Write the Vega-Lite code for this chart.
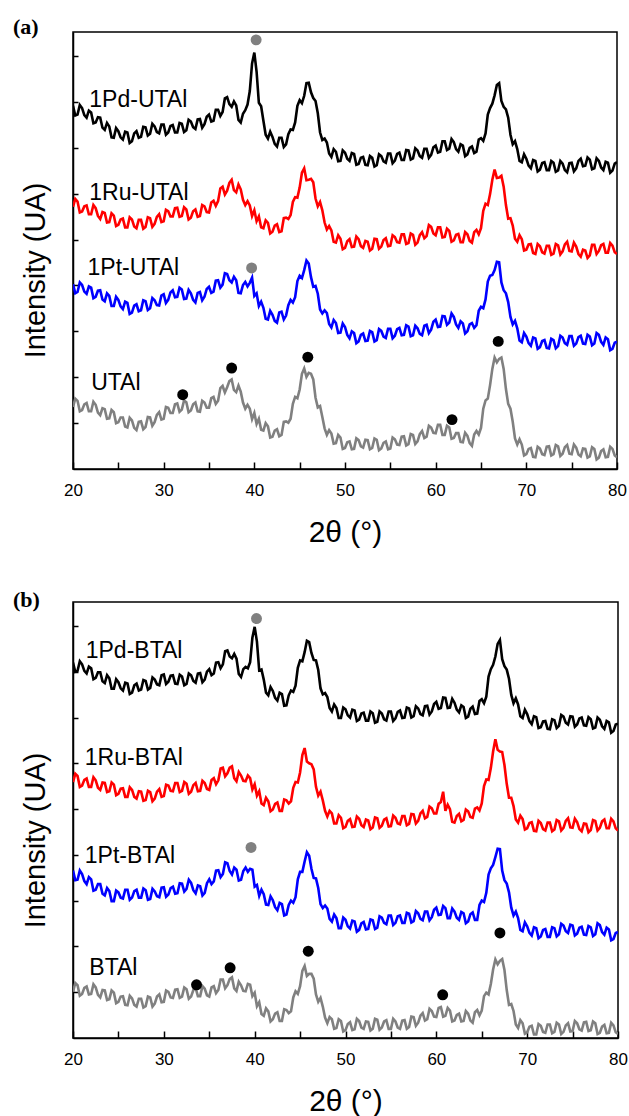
{
"$schema":"https://vega.github.io/schema/vega-lite/v6.json",
"padding":{"left":12,"top":15,"right":8,"bottom":4},
"spacing":40,
"config":{"font":"Liberation Sans","view":{"stroke":"black","strokeWidth":1.5},
"axis":{"domainColor":"black","domainWidth":1.5,"tickColor":"black","tickWidth":1.5,"labelColor":"black","titleColor":"black","labelFont":"Liberation Sans","titleFont":"Liberation Sans","labelFontSize":17,"grid":false,"titleFontWeight":"normal"},
"title":{"font":"Liberation Serif","fontSize":22,"fontWeight":"bold","color":"black","anchor":"start","frame":"group"}},
"datasets":{
"xrd":[
{"x":20,"a1":83.1,"a2":60.0,"a3":42.3,"a4":14.2,"b1":86.1,"b2":58.7,"b3":38.4,"b4":10.6},
{"x":20.5,"a1":81.1,"a2":61.2,"a3":40.5,"a4":15.6,"b1":84.2,"b2":60.1,"b3":36.3,"b4":12.1},
{"x":21,"a1":82.6,"a2":58.9,"a3":42.1,"a4":13.5,"b1":85.7,"b2":57.9,"b3":37.6,"b4":10.1},
{"x":21.5,"a1":80.4,"a2":60.3,"a3":40.1,"a4":15.1,"b1":83.6,"b2":59.5,"b3":35.3,"b4":11.8},
{"x":22,"a1":81.6,"a2":58.3,"a3":41.5,"a4":13.2,"b1":84.8,"b2":57.6,"b3":36.4,"b4":10.1},
{"x":22.5,"a1":79.3,"a2":59.7,"a3":39.4,"a4":14.7,"b1":82.6,"b2":59.1,"b3":34.0,"b4":11.6},
{"x":23,"a1":80.4,"a2":57.2,"a3":40.9,"a4":12.3,"b1":83.9,"b2":56.9,"b3":35.3,"b4":9.3},
{"x":23.5,"a1":77.6,"a2":58.6,"a3":38.4,"a4":13.7,"b1":81.4,"b2":58.5,"b3":32.7,"b4":10.9},
{"x":24,"a1":78.4,"a2":56.5,"a3":39.6,"a4":11.6,"b1":82.5,"b2":56.6,"b3":33.7,"b4":8.9},
{"x":24.5,"a1":75.8,"a2":58.0,"a3":37.3,"a4":13.0,"b1":80.1,"b2":58.1,"b3":31.4,"b4":10.4},
{"x":25,"a1":77.3,"a2":55.9,"a3":38.7,"a4":10.7,"b1":81.6,"b2":56.0,"b3":33.4,"b4":8.3},
{"x":25.5,"a1":75.4,"a2":57.3,"a3":36.6,"a4":11.8,"b1":79.7,"b2":57.3,"b3":32.0,"b4":9.6},
{"x":26,"a1":77.0,"a2":55.3,"a3":38.0,"a4":9.5,"b1":81.3,"b2":55.3,"b3":34.0,"b4":7.5},
{"x":26.5,"a1":75.0,"a2":57.1,"a3":35.8,"a4":11.1,"b1":79.2,"b2":56.9,"b3":32.2,"b4":9.1},
{"x":27,"a1":77.3,"a2":55.1,"a3":37.7,"a4":8.9,"b1":81.3,"b2":54.9,"b3":34.0,"b4":7.2},
{"x":27.5,"a1":76.0,"a2":57.0,"a3":36.3,"a4":10.9,"b1":79.9,"b2":56.5,"b3":32.2,"b4":9.0},
{"x":28,"a1":78.2,"a2":55.4,"a3":38.4,"a4":9.6,"b1":81.9,"b2":54.6,"b3":33.9,"b4":7.3},
{"x":28.5,"a1":76.7,"a2":57.4,"a3":36.8,"a4":11.8,"b1":80.3,"b2":56.4,"b3":31.9,"b4":9.3},
{"x":29,"a1":78.4,"a2":56.1,"a3":38.6,"a4":10.7,"b1":82.2,"b2":54.9,"b3":33.6,"b4":7.9},
{"x":29.5,"a1":76.8,"a2":58.3,"a3":37.4,"a4":13.0,"b1":80.9,"b2":57.1,"b3":32.3,"b4":10.0},
{"x":30,"a1":78.8,"a2":56.7,"a3":40.0,"a4":11.5,"b1":83.4,"b2":55.5,"b3":34.6,"b4":8.3},
{"x":30.5,"a1":77.0,"a2":59.0,"a3":38.7,"a4":14.0,"b1":81.7,"b2":57.9,"b3":32.9,"b4":10.6},
{"x":31,"a1":78.7,"a2":57.8,"a3":40.9,"a4":12.8,"b1":83.2,"b2":56.6,"b3":34.7,"b4":9.2},
{"x":31.5,"a1":77.0,"a2":59.8,"a3":39.4,"a4":15.0,"b1":81.2,"b2":58.5,"b3":33.2,"b4":11.2},
{"x":32,"a1":79.0,"a2":57.9,"a3":41.1,"a4":13.6,"b1":82.9,"b2":56.7,"b3":35.4,"b4":9.5},
{"x":32.5,"a1":77.5,"a2":59.4,"a3":39.0,"a4":15.3,"b1":81.2,"b2":58.3,"b3":34.2,"b4":11.2},
{"x":33,"a1":79.5,"a2":57.5,"a3":40.2,"a4":13.4,"b1":83.2,"b2":56.5,"b3":35.6,"b4":9.5},
{"x":33.5,"a1":77.8,"a2":59.4,"a3":38.1,"a4":15.2,"b1":81.5,"b2":58.5,"b3":33.2,"b4":11.5},
{"x":34,"a1":80.1,"a2":57.9,"a3":40.5,"a4":13.1,"b1":83.7,"b2":56.7,"b3":34.8,"b4":9.6},
{"x":34.5,"a1":78.9,"a2":60.1,"a3":39.4,"a4":15.2,"b1":82.2,"b2":58.5,"b3":33.3,"b4":11.3},
{"x":35,"a1":81.1,"a2":58.7,"a3":41.7,"a4":14.0,"b1":84.6,"b2":56.9,"b3":36.4,"b4":9.5},
{"x":35.5,"a1":79.7,"a2":61.4,"a3":40.6,"a4":16.5,"b1":83.6,"b2":59.6,"b3":35.9,"b4":11.9},
{"x":36,"a1":82.2,"a2":61.3,"a3":43.2,"a4":15.6,"b1":86.2,"b2":59.1,"b3":38.5,"b4":11.0},
{"x":36.5,"a1":81.7,"a2":64.6,"a3":42.2,"a4":19.0,"b1":85.7,"b2":62.0,"b3":37.6,"b4":13.4},
{"x":37,"a1":85.1,"a2":63.7,"a3":44.6,"a4":18.7,"b1":88.9,"b2":60.7,"b3":40.1,"b4":12.1},
{"x":37.5,"a1":82.9,"a2":66.2,"a3":42.7,"a4":20.5,"b1":87.1,"b2":62.3,"b3":37.5,"b4":13.9},
{"x":38,"a1":83.2,"a2":63.3,"a3":43.2,"a4":17.6,"b1":87.0,"b2":58.9,"b3":38.6,"b4":10.8},
{"x":38.5,"a1":79.3,"a2":64.0,"a3":40.2,"a4":17.7,"b1":82.8,"b2":60.2,"b3":36.3,"b4":12.1},
{"x":39,"a1":82.1,"a2":60.4,"a3":42.8,"a4":13.8,"b1":85.1,"b2":58.9,"b3":39.1,"b4":10.7},
{"x":39.5,"a1":86.5,"a2":60.3,"a3":42.6,"a4":13.8,"b1":86.2,"b2":59.6,"b3":38.8,"b4":12.2},
{"x":39.75,"a1":92.8,"a2":57.9,"a3":43.8,"a4":11.4,"b1":91.8,"b2":57.0,"b3":38.6,"b4":9.6},
{"x":40,"a1":95.3,"a2":59.2,"a3":39.6,"a4":12.8,"b1":94.3,"b2":58.2,"b3":34.7,"b4":10.4},
{"x":40.25,"a1":90.9,"a2":56.7,"a3":40.2,"a4":10.3,"b1":90.9,"b2":55.6,"b3":35.1,"b4":7.3},
{"x":40.5,"a1":83.8,"a2":57.8,"a3":37.3,"a4":11.5,"b1":84.3,"b2":56.6,"b3":32.6,"b4":8.2},
{"x":41,"a1":79.7,"a2":55.1,"a3":36.9,"a4":8.8,"b1":82.2,"b2":53.4,"b3":33.0,"b4":5.1},
{"x":41.5,"a1":75.6,"a2":56.3,"a3":34.2,"a4":9.8,"b1":78.6,"b2":54.3,"b3":30.5,"b4":6.1},
{"x":42,"a1":76.0,"a2":54.3,"a3":35.3,"a4":7.4,"b1":79.6,"b2":52.4,"b3":31.6,"b4":4.3},
{"x":42.5,"a1":73.8,"a2":56.0,"a3":33.5,"a4":9.1,"b1":77.4,"b2":54.0,"b3":29.3,"b4":5.9},
{"x":43,"a1":75.8,"a2":54.4,"a3":36.0,"a4":7.8,"b1":78.9,"b2":52.1,"b3":30.7,"b4":3.9},
{"x":43.5,"a1":74.3,"a2":57.5,"a3":35.1,"a4":10.9,"b1":76.3,"b2":54.5,"b3":28.3,"b4":6.4},
{"x":44,"a1":77.7,"a2":58.1,"a3":38.7,"a4":11.5,"b1":79.7,"b2":54.3,"b3":31.5,"b4":6.1},
{"x":44.5,"a1":79.3,"a2":62.2,"a3":39.3,"a4":16.5,"b1":80.8,"b2":58.7,"b3":32.3,"b4":10.7},
{"x":45,"a1":84.4,"a2":64.4,"a3":44.2,"a4":18.2,"b1":86.6,"b2":60.9,"b3":38.1,"b4":11.9},
{"x":45.5,"a1":85.4,"a2":68.8,"a3":45.5,"a4":23.0,"b1":88.5,"b2":66.5,"b3":40.5,"b4":16.5},
{"x":46,"a1":88.4,"a2":66.2,"a3":47.0,"a4":22.0,"b1":90.8,"b2":63.0,"b3":41.8,"b4":14.7},
{"x":46.5,"a1":84.9,"a2":65.6,"a3":41.7,"a4":20.5,"b1":86.7,"b2":61.6,"b3":36.7,"b4":13.6},
{"x":47,"a1":81.4,"a2":60.1,"a3":40.1,"a4":14.1,"b1":84.4,"b2":55.6,"b3":34.4,"b4":8.3},
{"x":47.5,"a1":75.3,"a2":59.2,"a3":35.6,"a4":11.9,"b1":78.8,"b2":54.5,"b3":29.8,"b4":7.2},
{"x":48,"a1":74.7,"a2":54.8,"a3":35.7,"a4":7.8,"b1":78.2,"b2":50.8,"b3":29.7,"b4":3.4},
{"x":48.5,"a1":71.4,"a2":54.6,"a3":32.4,"a4":8.1,"b1":74.9,"b2":51.5,"b3":26.7,"b4":4.3},
{"x":49,"a1":72.6,"a2":51.8,"a3":33.4,"a4":5.9,"b1":75.7,"b2":49.2,"b3":27.5,"b4":2.3},
{"x":49.5,"a1":70.5,"a2":52.7,"a3":31.2,"a4":7.2,"b1":73.4,"b2":50.5,"b3":25.2,"b4":3.9},
{"x":50,"a1":72.4,"a2":50.6,"a3":32.5,"a4":4.8,"b1":75.4,"b2":48.4,"b3":27.1,"b4":1.8},
{"x":50.5,"a1":70.5,"a2":52.6,"a3":29.9,"a4":6.3,"b1":73.5,"b2":50.2,"b3":25.1,"b4":3.6},
{"x":51,"a1":72.1,"a2":50.9,"a3":31.1,"a4":4.6,"b1":75.1,"b2":48.5,"b3":26.7,"b4":2.0},
{"x":51.5,"a1":69.8,"a2":52.6,"a3":29.2,"a4":6.6,"b1":73.0,"b2":50.3,"b3":24.8,"b4":3.9},
{"x":52,"a1":71.4,"a2":50.6,"a3":31.0,"a4":4.9,"b1":74.6,"b2":48.4,"b3":26.6,"b4":2.1},
{"x":52.5,"a1":69.5,"a2":52.0,"a3":29.4,"a4":6.6,"b1":72.8,"b2":49.9,"b3":25.0,"b4":3.7},
{"x":53,"a1":71.2,"a2":50.4,"a3":31.3,"a4":4.8,"b1":74.5,"b2":48.3,"b3":27.0,"b4":2.1},
{"x":53.5,"a1":69.5,"a2":52.6,"a3":29.5,"a4":6.7,"b1":72.5,"b2":50.4,"b3":25.3,"b4":4.2},
{"x":54,"a1":71.6,"a2":50.9,"a3":31.6,"a4":4.7,"b1":74.4,"b2":48.7,"b3":27.6,"b4":2.4},
{"x":54.5,"a1":70.1,"a2":52.8,"a3":30.0,"a4":6.3,"b1":72.8,"b2":50.4,"b3":26.1,"b4":4.1},
{"x":55,"a1":72.2,"a2":51.1,"a3":32.1,"a4":4.7,"b1":74.9,"b2":48.6,"b3":28.1,"b4":2.1},
{"x":55.5,"a1":70.6,"a2":53.1,"a3":30.5,"a4":6.8,"b1":73.3,"b2":50.5,"b3":26.4,"b4":3.8},
{"x":56,"a1":72.4,"a2":51.8,"a3":32.3,"a4":5.5,"b1":75.1,"b2":49.0,"b3":28.1,"b4":2.1},
{"x":56.5,"a1":70.7,"a2":53.7,"a3":30.7,"a4":7.5,"b1":73.5,"b2":50.9,"b3":26.4,"b4":4.1},
{"x":57,"a1":72.9,"a2":51.7,"a3":32.6,"a4":5.7,"b1":75.6,"b2":49.1,"b3":28.5,"b4":2.5},
{"x":57.5,"a1":71.1,"a2":53.6,"a3":30.6,"a4":7.8,"b1":73.8,"b2":51.3,"b3":26.8,"b4":4.8},
{"x":58,"a1":72.9,"a2":51.8,"a3":32.2,"a4":6.3,"b1":75.6,"b2":49.8,"b3":28.6,"b4":3.5},
{"x":58.5,"a1":71.2,"a2":54.2,"a3":30.6,"a4":8.7,"b1":74.0,"b2":52.1,"b3":27.0,"b4":5.7},
{"x":59,"a1":73.3,"a2":53.3,"a3":33.0,"a4":7.4,"b1":76.2,"b2":50.7,"b3":29.0,"b4":4.3},
{"x":59.5,"a1":71.9,"a2":55.4,"a3":31.9,"a4":9.5,"b1":74.9,"b2":52.7,"b3":27.7,"b4":6.2},
{"x":60,"a1":74.0,"a2":53.5,"a3":34.2,"a4":8.2,"b1":77.1,"b2":51.5,"b3":29.9,"b4":4.8},
{"x":60.5,"a1":72.6,"a2":55.3,"a3":32.6,"a4":10.1,"b1":75.7,"b2":54.1,"b3":28.3,"b4":7.1},
{"x":61,"a1":75.0,"a2":53.1,"a3":34.9,"a4":7.8,"b1":78.0,"b2":52.1,"b3":29.8,"b4":5.1},
{"x":61.5,"a1":73.3,"a2":54.5,"a3":33.5,"a4":9.5,"b1":75.8,"b2":52.5,"b3":27.5,"b4":6.3},
{"x":62,"a1":74.8,"a2":52.3,"a3":34.8,"a4":7.1,"b1":76.9,"b2":49.4,"b3":29.0,"b4":4.0},
{"x":62.5,"a1":72.6,"a2":53.8,"a3":32.3,"a4":8.2,"b1":74.7,"b2":51.4,"b3":27.1,"b4":5.6},
{"x":63,"a1":74.0,"a2":51.9,"a3":33.3,"a4":6.1,"b1":75.9,"b2":50.0,"b3":28.6,"b4":3.9},
{"x":63.5,"a1":72.0,"a2":53.7,"a3":31.5,"a4":7.6,"b1":73.7,"b2":52.0,"b3":26.7,"b4":5.6},
{"x":64,"a1":73.8,"a2":51.8,"a3":33.4,"a4":5.3,"b1":76.0,"b2":50.5,"b3":28.8,"b4":3.5},
{"x":64.5,"a1":72.6,"a2":54.7,"a3":32.9,"a4":8.7,"b1":74.4,"b2":52.9,"b3":27.1,"b4":6.4},
{"x":65,"a1":75.7,"a2":55.1,"a3":37.1,"a4":9.4,"b1":77.7,"b2":53.8,"b3":31.5,"b4":6.3},
{"x":65.5,"a1":76.8,"a2":60.7,"a3":38.8,"a4":15.7,"b1":78.3,"b2":59.3,"b3":33.3,"b4":10.4},
{"x":66,"a1":82.6,"a2":62.9,"a3":44.2,"a4":19.2,"b1":84.6,"b2":61.9,"b3":38.9,"b4":12.4},
{"x":66.5,"a1":85.5,"a2":68.5,"a3":45.5,"a4":25.5,"b1":87.5,"b2":68.5,"b3":41.5,"b4":18.0},
{"x":67,"a1":88.3,"a2":66.7,"a3":47.3,"a4":25.2,"b1":91.3,"b2":65.7,"b3":43.3,"b4":17.7},
{"x":67.5,"a1":82.9,"a2":64.6,"a3":40.9,"a4":22.9,"b1":85.3,"b2":62.6,"b3":36.2,"b4":15.6},
{"x":68,"a1":80.4,"a2":57.3,"a3":38.2,"a4":14.9,"b1":82.4,"b2":55.1,"b3":33.4,"b4":7.6},
{"x":68.5,"a1":74.3,"a2":55.7,"a3":33.1,"a4":10.8,"b1":76.8,"b2":53.2,"b3":28.1,"b4":6.2},
{"x":69,"a1":73.2,"a2":52.0,"a3":32.2,"a4":5.6,"b1":76.5,"b2":49.4,"b3":27.5,"b4":2.3},
{"x":69.5,"a1":70.2,"a2":52.6,"a3":29.0,"a4":5.6,"b1":73.4,"b2":50.2,"b3":24.5,"b4":3.4},
{"x":70,"a1":71.0,"a2":50.2,"a3":30.3,"a4":3.4,"b1":74.3,"b2":48.1,"b3":25.6,"b4":1.3},
{"x":70.5,"a1":68.8,"a2":51.5,"a3":28.2,"a4":4.8,"b1":72.0,"b2":49.5,"b3":23.5,"b4":2.8},
{"x":71,"a1":70.5,"a2":49.2,"a3":29.9,"a4":2.7,"b1":73.6,"b2":47.4,"b3":25.2,"b4":0.8},
{"x":71.5,"a1":68.5,"a2":51.0,"a3":27.9,"a4":4.7,"b1":71.3,"b2":49.3,"b3":23.3,"b4":2.8},
{"x":72,"a1":70.2,"a2":49.3,"a3":29.5,"a4":3.2,"b1":72.7,"b2":47.6,"b3":25.0,"b4":1.2},
{"x":72.5,"a1":68.4,"a2":51.1,"a3":27.6,"a4":5.2,"b1":70.8,"b2":49.4,"b3":23.2,"b4":3.1},
{"x":73,"a1":70.1,"a2":49.3,"a3":29.5,"a4":3.4,"b1":72.9,"b2":47.8,"b3":25.2,"b4":1.4},
{"x":73.5,"a1":68.3,"a2":51.2,"a3":28.1,"a4":5.2,"b1":71.6,"b2":49.7,"b3":23.8,"b4":3.1},
{"x":74,"a1":69.9,"a2":49.8,"a3":30.1,"a4":3.5,"b1":73.7,"b2":48.2,"b3":25.8,"b4":1.4},
{"x":74.5,"a1":67.9,"a2":52.0,"a3":28.4,"a4":5.5,"b1":71.9,"b2":50.4,"b3":24.1,"b4":3.4},
{"x":75,"a1":70.1,"a2":49.8,"a3":30.4,"a4":3.4,"b1":73.7,"b2":48.2,"b3":25.8,"b4":1.6},
{"x":75.5,"a1":68.8,"a2":50.9,"a3":28.7,"a4":4.9,"b1":71.9,"b2":49.5,"b3":23.9,"b4":3.4},
{"x":76,"a1":71.0,"a2":48.6,"a3":30.5,"a4":2.9,"b1":73.5,"b2":47.4,"b3":25.5,"b4":1.7},
{"x":76.5,"a1":69.4,"a2":50.0,"a3":28.6,"a4":4.6,"b1":71.6,"b2":49.1,"b3":23.6,"b4":3.7},
{"x":77,"a1":70.8,"a2":48.9,"a3":30.3,"a4":2.9,"b1":73.1,"b2":47.7,"b3":25.4,"b4":1.8},
{"x":77.5,"a1":68.8,"a2":51.3,"a3":28.7,"a4":4.6,"b1":71.2,"b2":49.8,"b3":23.8,"b4":3.4},
{"x":78,"a1":70.5,"a2":49.9,"a3":30.7,"a4":2.6,"b1":73.0,"b2":48.2,"b3":25.9,"b4":1.2},
{"x":78.5,"a1":68.4,"a2":51.5,"a3":28.4,"a4":4.5,"b1":70.9,"b2":50.1,"b3":23.7,"b4":3.0},
{"x":79,"a1":70.1,"a2":49.5,"a3":29.7,"a4":2.8,"b1":72.4,"b2":48.1,"b3":24.9,"b4":1.2},
{"x":79.5,"a1":68.3,"a2":51.1,"a3":27.5,"a4":4.6,"b1":70.4,"b2":49.7,"b3":22.7,"b4":2.9},
{"x":80,"a1":70.2,"a2":49.2,"a3":29.1,"a4":2.7,"b1":72.1,"b2":47.6,"b3":24.3,"b4":0.9},
{"x":20.25,"a1":80.9,"a2":61.8,"a3":40.2,"a4":16.1,"b1":84.0,"b2":60.6,"b3":36.2,"b4":12.6},
{"x":20.75,"a1":83.3,"a2":58.7,"a3":42.7,"a4":13.2,"b1":86.4,"b2":57.6,"b3":38.4,"b4":9.7},
{"x":21.25,"a1":81.0,"a2":60.1,"a3":40.6,"a4":14.8,"b1":84.2,"b2":59.2,"b3":36.0,"b4":11.5},
{"x":21.75,"a1":82.0,"a2":58.3,"a3":41.8,"a4":13.2,"b1":85.2,"b2":57.6,"b3":36.9,"b4":10.0},
{"x":22.25,"a1":79.1,"a2":60.4,"a3":39.1,"a4":15.4,"b1":82.3,"b2":59.8,"b3":33.8,"b4":12.3},
{"x":22.75,"a1":80.5,"a2":57.9,"a3":40.8,"a4":12.9,"b1":83.9,"b2":57.4,"b3":35.3,"b4":9.9},
{"x":23.25,"a1":78.1,"a2":58.8,"a3":38.8,"a4":13.9,"b1":81.8,"b2":58.6,"b3":33.1,"b4":11.0},
{"x":23.75,"a1":79.2,"a2":56.4,"a3":40.2,"a4":11.5,"b1":83.2,"b2":56.4,"b3":34.4,"b4":8.7},
{"x":24.25,"a1":75.9,"a2":58.5,"a3":37.3,"a4":13.5,"b1":80.1,"b2":58.6,"b3":31.4,"b4":10.9},
{"x":24.75,"a1":78.0,"a2":55.6,"a3":39.4,"a4":10.5,"b1":82.3,"b2":55.7,"b3":33.8,"b4":8.0},
{"x":25.25,"a1":75.9,"a2":57.1,"a3":37.2,"a4":11.8,"b1":80.2,"b2":57.2,"b3":32.2,"b4":9.5},
{"x":25.75,"a1":77.2,"a2":55.3,"a3":38.3,"a4":9.7,"b1":81.5,"b2":55.3,"b3":34.0,"b4":7.6},
{"x":26.25,"a1":74.6,"a2":57.6,"a3":35.5,"a4":11.7,"b1":78.9,"b2":57.5,"b3":31.7,"b4":9.7},
{"x":26.75,"a1":76.8,"a2":55.5,"a3":37.4,"a4":9.4,"b1":80.9,"b2":55.3,"b3":33.7,"b4":7.6},
{"x":27.25,"a1":75.8,"a2":57.0,"a3":36.1,"a4":10.8,"b1":79.7,"b2":56.6,"b3":32.2,"b4":9.0},
{"x":27.75,"a1":78.3,"a2":55.0,"a3":38.6,"a4":9.1,"b1":82.1,"b2":54.4,"b3":34.3,"b4":7.0},
{"x":28.25,"a1":76.3,"a2":57.6,"a3":36.4,"a4":11.9,"b1":79.9,"b2":56.7,"b3":31.7,"b4":9.5},
{"x":28.75,"a1":79.0,"a2":55.4,"a3":39.1,"a4":9.9,"b1":82.7,"b2":54.3,"b3":34.2,"b4":7.2},
{"x":29.25,"a1":77.1,"a2":57.7,"a3":37.5,"a4":12.4,"b1":81.1,"b2":56.5,"b3":32.5,"b4":9.5},
{"x":29.75,"a1":78.8,"a2":56.5,"a3":39.7,"a4":11.3,"b1":83.2,"b2":55.3,"b3":34.5,"b4":8.2},
{"x":30.25,"a1":76.5,"a2":59.3,"a3":38.0,"a4":14.2,"b1":81.2,"b2":58.1,"b3":32.4,"b4":10.9},
{"x":30.75,"a1":78.5,"a2":57.8,"a3":40.4,"a4":12.8,"b1":83.1,"b2":56.7,"b3":34.4,"b4":9.3},
{"x":31.25,"a1":77.0,"a2":59.7,"a3":39.3,"a4":14.8,"b1":81.3,"b2":58.5,"b3":33.1,"b4":11.1},
{"x":31.75,"a1":79.2,"a2":57.7,"a3":41.5,"a4":13.1,"b1":83.3,"b2":56.4,"b3":35.5,"b4":9.2},
{"x":32.25,"a1":77.1,"a2":59.9,"a3":38.9,"a4":15.7,"b1":80.9,"b2":58.7,"b3":33.6,"b4":11.6},
{"x":32.75,"a1":79.9,"a2":57.1,"a3":41.0,"a4":13.0,"b1":83.6,"b2":56.0,"b3":36.3,"b4":9.0},
{"x":33.25,"a1":78.2,"a2":59.0,"a3":38.7,"a4":14.8,"b1":81.9,"b2":58.0,"b3":33.9,"b4":11.0},
{"x":33.75,"a1":80.0,"a2":57.7,"a3":40.3,"a4":13.2,"b1":83.6,"b2":56.6,"b3":35.0,"b4":9.6},
{"x":34.25,"a1":78.1,"a2":60.4,"a3":38.6,"a4":15.6,"b1":81.6,"b2":59.0,"b3":32.7,"b4":11.9},
{"x":34.75,"a1":80.6,"a2":58.8,"a3":41.2,"a4":14.0,"b1":84.0,"b2":57.1,"b3":35.5,"b4":9.8},
{"x":35.25,"a1":79.5,"a2":61.0,"a3":40.3,"a4":16.2,"b1":83.2,"b2":59.2,"b3":35.3,"b4":11.6},
{"x":35.75,"a1":82.2,"a2":60.2,"a3":43.1,"a4":14.9,"b1":86.1,"b2":58.2,"b3":38.4,"b4":10.3},
{"x":36.25,"a1":80.8,"a2":64.2,"a3":41.5,"a4":18.5,"b1":84.8,"b2":61.8,"b3":36.9,"b4":13.4},
{"x":36.75,"a1":84.8,"a2":62.8,"a3":44.8,"a4":17.5,"b1":88.7,"b2":60.0,"b3":40.3,"b4":11.4},
{"x":37.25,"a1":83.5,"a2":65.5,"a3":43.2,"a4":20.1,"b1":87.5,"b2":62.0,"b3":38.3,"b4":13.5},
{"x":37.75,"a1":84.1,"a2":63.8,"a3":44.0,"a4":18.1,"b1":88.1,"b2":59.6,"b3":39.1,"b4":11.4},
{"x":38.25,"a1":79.9,"a2":65.1,"a3":40.3,"a4":19.1,"b1":83.5,"b2":61.0,"b3":36.1,"b4":12.9},
{"x":38.75,"a1":81.3,"a2":61.6,"a3":42.1,"a4":15.2,"b1":84.6,"b2":59.0,"b3":38.3,"b4":10.8},
{"x":39.25,"a1":83.4,"a2":61.3,"a3":41.8,"a4":14.7,"b1":84.8,"b2":60.2,"b3":38.1,"b4":12.4},
{"x":40.75,"a1":83.0,"a2":55.3,"a3":38.3,"a4":9.0,"b1":84.5,"b2":53.8,"b3":34.0,"b4":5.5},
{"x":41.25,"a1":76.5,"a2":56.9,"a3":34.4,"a4":10.5,"b1":79.2,"b2":55.1,"b3":30.6,"b4":6.8},
{"x":41.75,"a1":77.2,"a2":53.9,"a3":36.2,"a4":7.2,"b1":80.5,"b2":52.0,"b3":32.5,"b4":3.8},
{"x":42.25,"a1":74.4,"a2":55.7,"a3":33.9,"a4":8.8,"b1":78.0,"b2":53.7,"b3":30.0,"b4":5.6},
{"x":42.75,"a1":75.8,"a2":54.2,"a3":35.8,"a4":7.5,"b1":79.2,"b2":52.1,"b3":31.0,"b4":3.9},
{"x":43.25,"a1":73.7,"a2":57.4,"a3":34.2,"a4":10.8,"b1":76.2,"b2":54.7,"b3":28.1,"b4":6.6},
{"x":43.75,"a1":76.6,"a2":57.2,"a3":37.5,"a4":10.6,"b1":78.6,"b2":53.8,"b3":30.5,"b4":5.7},
{"x":44.25,"a1":77.6,"a2":61.1,"a3":38.1,"a4":14.9,"b1":79.4,"b2":57.4,"b3":31.0,"b4":9.3},
{"x":44.75,"a1":83.1,"a2":62.1,"a3":43.0,"a4":16.2,"b1":84.9,"b2":58.6,"b3":36.4,"b4":10.1},
{"x":45.25,"a1":83.7,"a2":67.8,"a3":43.7,"a4":21.8,"b1":86.4,"b2":64.9,"b3":38.1,"b4":15.4},
{"x":45.75,"a1":88.3,"a2":66.1,"a3":47.7,"a4":21.1,"b1":91.1,"b2":63.4,"b3":42.6,"b4":14.2},
{"x":46.25,"a1":86.2,"a2":66.4,"a3":43.9,"a4":21.8,"b1":88.3,"b2":62.8,"b3":38.8,"b4":14.7},
{"x":46.75,"a1":84.2,"a2":61.9,"a3":41.9,"a4":16.3,"b1":86.6,"b2":57.6,"b3":36.6,"b4":10.0},
{"x":47.25,"a1":77.0,"a2":61.1,"a3":36.5,"a4":14.4,"b1":80.2,"b2":56.5,"b3":30.7,"b4":9.2},
{"x":47.75,"a1":75.6,"a2":56.4,"a3":36.3,"a4":9.3,"b1":79.1,"b2":52.1,"b3":30.4,"b4":4.7},
{"x":48.25,"a1":72.2,"a2":55.6,"a3":33.2,"a4":8.9,"b1":75.7,"b2":52.1,"b3":27.3,"b4":4.8},
{"x":48.75,"a1":73.2,"a2":52.0,"a3":34.1,"a4":5.8,"b1":76.5,"b2":49.2,"b3":28.3,"b4":2.1},
{"x":49.25,"a1":70.4,"a2":53.5,"a3":31.1,"a4":7.8,"b1":73.4,"b2":51.1,"b3":25.2,"b4":4.3},
{"x":49.75,"a1":72.9,"a2":50.3,"a3":33.3,"a4":4.6,"b1":75.8,"b2":48.1,"b3":27.6,"b4":1.5},
{"x":50.25,"a1":71.0,"a2":52.1,"a3":30.7,"a4":6.1,"b1":74.0,"b2":49.8,"b3":25.6,"b4":3.2},
{"x":50.75,"a1":72.3,"a2":50.8,"a3":31.5,"a4":4.5,"b1":75.3,"b2":48.4,"b3":26.9,"b4":1.8},
{"x":51.25,"a1":69.6,"a2":53.2,"a3":28.8,"a4":7.0,"b1":72.7,"b2":50.8,"b3":24.4,"b4":4.4},
{"x":51.75,"a1":71.2,"a2":51.0,"a3":30.7,"a4":5.2,"b1":74.4,"b2":48.8,"b3":26.3,"b4":2.4},
{"x":52.25,"a1":69.6,"a2":52.2,"a3":29.3,"a4":6.7,"b1":72.8,"b2":50.1,"b3":24.9,"b4":3.8},
{"x":52.75,"a1":71.6,"a2":50.0,"a3":31.6,"a4":4.5,"b1":74.9,"b2":47.9,"b3":27.2,"b4":1.7},
{"x":53.25,"a1":69.2,"a2":52.7,"a3":29.2,"a4":7.0,"b1":72.3,"b2":50.6,"b3":25.0,"b4":4.4},
{"x":53.75,"a1":72.0,"a2":50.4,"a3":32.0,"a4":4.3,"b1":74.9,"b2":48.2,"b3":27.9,"b4":1.9},
{"x":54.25,"a1":70.4,"a2":52.4,"a3":30.3,"a4":6.0,"b1":73.1,"b2":50.1,"b3":26.4,"b4":3.8},
{"x":54.75,"a1":72.2,"a2":51.0,"a3":32.1,"a4":4.5,"b1":74.9,"b2":48.5,"b3":28.1,"b4":2.1},
{"x":55.25,"a1":70.0,"a2":53.5,"a3":29.9,"a4":7.2,"b1":72.7,"b2":51.0,"b3":25.9,"b4":4.4},
{"x":55.75,"a1":72.1,"a2":51.9,"a3":32.0,"a4":5.6,"b1":74.8,"b2":49.2,"b3":27.9,"b4":2.4},
{"x":56.25,"a1":70.7,"a2":53.7,"a3":30.6,"a4":7.4,"b1":73.4,"b2":50.9,"b3":26.4,"b4":4.0},
{"x":56.75,"a1":73.0,"a2":51.5,"a3":32.9,"a4":5.4,"b1":75.8,"b2":48.8,"b3":28.7,"b4":2.1},
{"x":57.25,"a1":70.8,"a2":53.9,"a3":30.4,"a4":8.0,"b1":73.5,"b2":51.4,"b3":26.5,"b4":4.9},
{"x":57.75,"a1":73.4,"a2":51.3,"a3":32.8,"a4":5.7,"b1":76.1,"b2":49.2,"b3":29.1,"b4":2.8},
{"x":58.25,"a1":71.6,"a2":53.5,"a3":30.9,"a4":8.0,"b1":74.3,"b2":51.5,"b3":27.3,"b4":5.1},
{"x":58.75,"a1":73.3,"a2":52.8,"a3":32.8,"a4":7.1,"b1":76.1,"b2":50.4,"b3":29.0,"b4":4.0},
{"x":59.25,"a1":71.2,"a2":55.8,"a3":31.1,"a4":9.9,"b1":74.2,"b2":53.1,"b3":27.0,"b4":6.7},
{"x":59.75,"a1":73.6,"a2":53.9,"a3":33.7,"a4":8.3,"b1":76.6,"b2":51.5,"b3":29.4,"b4":4.9},
{"x":60.25,"a1":72.4,"a2":55.3,"a3":32.5,"a4":10.1,"b1":75.5,"b2":53.7,"b3":28.2,"b4":6.9},
{"x":60.75,"a1":75.0,"a2":53.0,"a3":35.0,"a4":7.8,"b1":78.1,"b2":56.5,"b3":30.3,"b4":4.9},
{"x":61.25,"a1":73.0,"a2":55.0,"a3":33.0,"a4":9.9,"b1":75.7,"b2":53.5,"b3":27.5,"b4":6.9},
{"x":61.75,"a1":75.5,"a2":52.0,"a3":35.6,"a4":6.9,"b1":77.8,"b2":49.6,"b3":29.7,"b4":3.8},
{"x":62.25,"a1":73.2,"a2":53.6,"a3":33.1,"a4":8.2,"b1":75.3,"b2":50.9,"b3":27.6,"b4":5.3},
{"x":62.75,"a1":74.3,"a2":51.9,"a3":33.8,"a4":6.2,"b1":76.3,"b2":49.7,"b3":28.9,"b4":3.8},
{"x":63.25,"a1":71.6,"a2":54.2,"a3":31.0,"a4":8.3,"b1":73.4,"b2":52.4,"b3":26.3,"b4":6.2},
{"x":63.75,"a1":73.5,"a2":52.2,"a3":33.1,"a4":5.9,"b1":75.5,"b2":50.7,"b3":28.4,"b4":4.0},
{"x":64.25,"a1":72.3,"a2":54.2,"a3":32.3,"a4":7.9,"b1":74.3,"b2":52.6,"b3":27.1,"b4":5.9},
{"x":64.75,"a1":75.4,"a2":53.7,"a3":36.2,"a4":7.9,"b1":77.3,"b2":52.2,"b3":30.5,"b4":5.2},
{"x":65.25,"a1":75.1,"a2":59.1,"a3":36.8,"a4":13.8,"b1":76.8,"b2":57.8,"b3":31.2,"b4":9.6},
{"x":65.75,"a1":81.1,"a2":60.4,"a3":42.9,"a4":16.1,"b1":82.9,"b2":59.2,"b3":37.5,"b4":10.0},
{"x":66.25,"a1":83.6,"a2":66.2,"a3":44.4,"a4":22.9,"b1":85.6,"b2":65.7,"b3":39.7,"b4":15.7},
{"x":66.75,"a1":87.9,"a2":66.6,"a3":47.4,"a4":24.4,"b1":90.4,"b2":66.1,"b3":43.4,"b4":16.9},
{"x":67.25,"a1":84.2,"a2":67.1,"a3":42.7,"a4":25.5,"b1":86.9,"b2":65.6,"b3":38.4,"b4":18.1},
{"x":67.75,"a1":82.3,"a2":60.4,"a3":40.2,"a4":18.3,"b1":84.5,"b2":58.3,"b3":35.4,"b4":11.0},
{"x":68.25,"a1":76.5,"a2":57.4,"a3":34.8,"a4":13.8,"b1":78.7,"b2":55.1,"b3":29.9,"b4":7.8},
{"x":68.75,"a1":75.0,"a2":52.7,"a3":33.9,"a4":7.0,"b1":77.9,"b2":50.1,"b3":29.0,"b4":3.1},
{"x":69.25,"a1":70.5,"a2":53.5,"a3":29.4,"a4":6.8,"b1":73.8,"b2":51.0,"b3":24.8,"b4":4.1},
{"x":69.75,"a1":72.0,"a2":50.0,"a3":31.1,"a4":3.1,"b1":75.3,"b2":47.8,"b3":26.5,"b4":1.0},
{"x":70.25,"a1":69.4,"a2":51.4,"a3":28.8,"a4":4.6,"b1":72.7,"b2":49.3,"b3":24.1,"b4":2.6},
{"x":70.75,"a1":70.7,"a2":49.4,"a3":30.1,"a4":2.8,"b1":73.8,"b2":47.5,"b3":25.4,"b4":0.8},
{"x":71.25,"a1":68.1,"a2":51.5,"a3":27.5,"a4":5.1,"b1":71.1,"b2":49.8,"b3":22.9,"b4":3.2},
{"x":71.75,"a1":70.0,"a2":49.6,"a3":29.3,"a4":3.4,"b1":72.6,"b2":47.9,"b3":24.8,"b4":1.4},
{"x":72.25,"a1":68.4,"a2":51.1,"a3":27.7,"a4":5.1,"b1":70.9,"b2":49.4,"b3":23.2,"b4":3.1},
{"x":72.75,"a1":70.5,"a2":49.0,"a3":29.8,"a4":3.1,"b1":73.1,"b2":47.4,"b3":25.4,"b4":1.1},
{"x":73.25,"a1":68.0,"a2":51.5,"a3":27.6,"a4":5.5,"b1":71.1,"b2":50.0,"b3":23.3,"b4":3.5},
{"x":73.75,"a1":70.5,"a2":49.1,"a3":30.5,"a4":3.0,"b1":74.1,"b2":47.6,"b3":26.2,"b4":0.9},
{"x":74.25,"a1":68.4,"a2":51.4,"a3":28.8,"a4":5.0,"b1":72.3,"b2":49.8,"b3":24.5,"b4":2.9},
{"x":74.75,"a1":70.0,"a2":49.9,"a3":30.4,"a4":3.5,"b1":73.8,"b2":48.3,"b3":26.0,"b4":1.5},
{"x":75.25,"a1":68.1,"a2":51.8,"a3":28.2,"a4":5.6,"b1":71.4,"b2":50.3,"b3":23.5,"b4":3.9},
{"x":75.75,"a1":70.5,"a2":49.2,"a3":30.2,"a4":3.3,"b1":73.3,"b2":47.9,"b3":25.3,"b4":2.0},
{"x":76.25,"a1":69.3,"a2":50.2,"a3":28.7,"a4":4.7,"b1":71.7,"b2":49.2,"b3":23.7,"b4":3.6},
{"x":76.75,"a1":71.3,"a2":48.3,"a3":30.7,"a4":2.6,"b1":73.6,"b2":47.2,"b3":25.7,"b4":1.6},
{"x":77.25,"a1":68.6,"a2":51.3,"a3":28.3,"a4":5.0,"b1":71.0,"b2":50.0,"b3":23.4,"b4":3.8},
{"x":77.75,"a1":71.1,"a2":49.2,"a3":31.1,"a4":2.2,"b1":73.5,"b2":47.6,"b3":26.3,"b4":0.9},
{"x":78.25,"a1":69.0,"a2":51.2,"a3":29.1,"a4":4.1,"b1":71.5,"b2":49.7,"b3":24.3,"b4":2.6},
{"x":78.75,"a1":70.3,"a2":49.5,"a3":30.1,"a4":2.7,"b1":72.7,"b2":48.1,"b3":25.3,"b4":1.1},
{"x":79.25,"a1":67.8,"a2":51.7,"a3":27.2,"a4":5.1,"b1":70.0,"b2":50.3,"b3":22.4,"b4":3.5},
{"x":79.75,"a1":69.9,"a2":49.6,"a3":28.9,"a4":3.1,"b1":71.9,"b2":48.1,"b3":24.1,"b4":1.3}
],
"labels":[
{"p":"a","x":21.8,"y":82.9,"t":"1Pd-UTAl"},
{"p":"a","x":21.8,"y":61.6,"t":"1Ru-UTAl"},
{"p":"a","x":21.6,"y":44.4,"t":"1Pt-UTAl"},
{"p":"a","x":22.0,"y":18.1,"t":"UTAl"},
{"p":"b","x":21.4,"y":87.2,"t":"1Pd-BTAl"},
{"p":"b","x":21.3,"y":62.7,"t":"1Ru-BTAl"},
{"p":"b","x":21.3,"y":40.1,"t":"1Pt-BTAl"},
{"p":"b","x":21.8,"y":14.4,"t":"BTAl"}
],
"dots":[
{"p":"a","x":40.2,"y":98.2,"c":"#808080"},
{"p":"a","x":39.7,"y":46.0,"c":"#808080"},
{"p":"a","x":32.1,"y":17.0,"c":"#000000"},
{"p":"a","x":37.5,"y":23.1,"c":"#000000"},
{"p":"a","x":45.9,"y":25.6,"c":"#000000"},
{"p":"a","x":61.8,"y":11.3,"c":"#000000"},
{"p":"a","x":66.9,"y":29.2,"c":"#000000"},
{"p":"b","x":40.2,"y":96.2,"c":"#808080"},
{"p":"b","x":39.6,"y":43.7,"c":"#808080"},
{"p":"b","x":33.6,"y":12.2,"c":"#000000"},
{"p":"b","x":37.3,"y":16.1,"c":"#000000"},
{"p":"b","x":45.9,"y":19.9,"c":"#000000"},
{"p":"b","x":60.7,"y":9.9,"c":"#000000"},
{"p":"b","x":67.0,"y":24.1,"c":"#000000"}
]
},
"vconcat":[
{
"width":544,"height":437,
"title":{"text":"(a)","dx":-60,"dy":9,"offset":2},
"resolve":{"scale":{"color":"independent"}},
"layer":[
{"data":{"name":"xrd"},"transform":[{"fold":["a1","a2","a3","a4"],"as":["s","y"]}],
"mark":{"type":"line","strokeWidth":2.6,"clip":true},
"encoding":{
"x":{"field":"x","type":"quantitative","scale":{"domain":[20,80],"nice":false,"zero":false},
"axis":{"title":"2θ (°)","values":[20,25,30,35,40,45,50,55,60,65,70,75,80],"labelExpr":"datum.value % 10 === 0 ? datum.label : ''","tickSize":-7,"labelPadding":20,"labelFlush":false,"labelOverlap":false,"titleFontSize":30,"titlePadding":19}},
"y":{"field":"y","type":"quantitative","scale":{"domain":[0,100],"nice":false,"zero":false},
"axis":{"title":"Intensity (UA)","labels":false,"values":[10.5,21,31.5,42,52.5,63,73.5,84,94.5],"tickSize":-5,"titleFontSize":29,"titlePadding":22,"titleY":238}},
"color":{"field":"s","type":"nominal","scale":{"domain":["a1","a2","a3","a4"],"range":["#000000","#ff0000","#0000ff","#808080"]},"legend":null},
"order":{"field":"x","type":"quantitative"}}},
{"data":{"name":"labels"},"transform":[{"filter":"datum.p === 'a'"}],
"mark":{"type":"text","align":"left","baseline":"alphabetic","fontSize":23,"font":"Liberation Sans","color":"black"},
"encoding":{"x":{"field":"x","type":"quantitative"},"y":{"field":"y","type":"quantitative"},"text":{"field":"t"}}},
{"data":{"name":"dots"},"transform":[{"filter":"datum.p === 'a'"}],
"mark":{"type":"point","shape":"circle","filled":true,"size":120,"opacity":1},
"encoding":{"x":{"field":"x","type":"quantitative"},"y":{"field":"y","type":"quantitative"},"color":{"field":"c","type":"nominal","scale":null,"legend":null}}}
]
},
{
"width":545,"height":436,
"title":{"text":"(b)","dx":-60,"dy":12,"offset":2},
"resolve":{"scale":{"color":"independent"}},
"layer":[
{"data":{"name":"xrd"},"transform":[{"fold":["b1","b2","b3","b4"],"as":["s","y"]}],
"mark":{"type":"line","strokeWidth":2.6,"clip":true},
"encoding":{
"x":{"field":"x","type":"quantitative","scale":{"domain":[20,80],"nice":false,"zero":false},
"axis":{"title":"2θ (°)","values":[20,25,30,35,40,45,50,55,60,65,70,75,80],"labelExpr":"datum.value % 10 === 0 ? datum.label : ''","tickSize":-7,"labelPadding":20,"labelFlush":false,"labelOverlap":false,"titleFontSize":30,"titlePadding":19}},
"y":{"field":"y","type":"quantitative","scale":{"domain":[0,100],"nice":false,"zero":false},
"axis":{"title":"Intensity (UA)","labels":false,"values":[10.5,21,31.5,42,52.5,63,73.5,84,94.5],"tickSize":-5,"titleFontSize":29,"titlePadding":22,"titleY":238}},
"color":{"field":"s","type":"nominal","scale":{"domain":["b1","b2","b3","b4"],"range":["#000000","#ff0000","#0000ff","#808080"]},"legend":null},
"order":{"field":"x","type":"quantitative"}}},
{"data":{"name":"labels"},"transform":[{"filter":"datum.p === 'b'"}],
"mark":{"type":"text","align":"left","baseline":"alphabetic","fontSize":23,"font":"Liberation Sans","color":"black"},
"encoding":{"x":{"field":"x","type":"quantitative"},"y":{"field":"y","type":"quantitative"},"text":{"field":"t"}}},
{"data":{"name":"dots"},"transform":[{"filter":"datum.p === 'b'"}],
"mark":{"type":"point","shape":"circle","filled":true,"size":120,"opacity":1},
"encoding":{"x":{"field":"x","type":"quantitative"},"y":{"field":"y","type":"quantitative"},"color":{"field":"c","type":"nominal","scale":null,"legend":null}}}
]
}
]
}
